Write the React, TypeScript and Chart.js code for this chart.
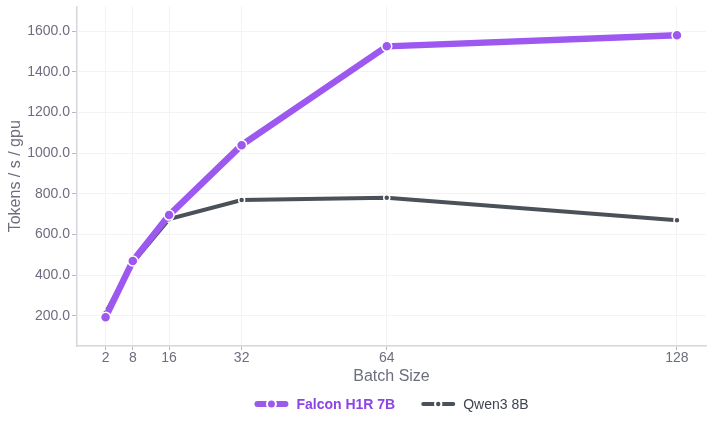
import React, { useEffect, useRef } from "react";
import { Chart, registerables } from "chart.js";

Chart.register(...registerables);

const batchSizes = [2, 8, 16, 32, 64, 128];
const falconValues = [194, 470, 696, 1040, 1526, 1580];
const qwenValues = [215, 462, 676, 770, 781, 670];
const yTickValues = [200, 400, 600, 800, 1000, 1200, 1400, 1600];
const seriesNames = ["Falcon H1R 7B", "Qwen3 8B"];

const PURPLE = "#9d58f0";
const PURPLE_TEXT = "#8b45e6";
const GRAY = "#4b5159";
const TICK_COLOR = "#6c6e7e";
const FONT = "'Liberation Sans', Arial, Helvetica, sans-serif";

const legendPlugin = {
  id: "customLegend",
  afterDraw(chart: any) {
    const ctx = chart.ctx as CanvasRenderingContext2D;
    const area = chart.chartArea;
    const y = chart.height - 21;
    const items = [
      { text: seriesNames[0], color: PURPLE, textColor: PURPLE_TEXT, bold: true, lw: 6, dot: 3.5 },
      { text: seriesNames[1], color: GRAY, textColor: "#3f4350", bold: false, lw: 4, dot: 2.2 },
    ];
    const symW = 34;
    const gapSymText = 8;
    const gapItems = 26;
    const widths = items.map((it) => {
      ctx.font = `${it.bold ? "bold " : ""}14px ${FONT}`;
      return symW + gapSymText + ctx.measureText(it.text).width;
    });
    const total = widths.reduce((a, b) => a + b, 0) + gapItems * (items.length - 1);
    let x = (area.left + area.right) / 2 - total / 2;
    ctx.save();
    items.forEach((it, i) => {
      ctx.lineCap = "round";
      ctx.strokeStyle = it.color;
      ctx.lineWidth = it.lw;
      ctx.beginPath();
      ctx.moveTo(x + it.lw / 2, y);
      ctx.lineTo(x + symW - it.lw / 2, y);
      ctx.stroke();
      const cx = x + symW / 2;
      ctx.fillStyle = "#ffffff";
      ctx.beginPath();
      ctx.arc(cx, y, it.dot + 2, 0, Math.PI * 2);
      ctx.fill();
      ctx.fillStyle = it.color;
      ctx.beginPath();
      ctx.arc(cx, y, it.dot, 0, Math.PI * 2);
      ctx.fill();
      ctx.font = `${it.bold ? "bold " : ""}14px ${FONT}`;
      ctx.fillStyle = it.textColor;
      ctx.textBaseline = "middle";
      ctx.textAlign = "left";
      ctx.fillText(it.text, x + symW + gapSymText, y + 1);
      x += widths[i] + gapItems;
    });
    ctx.restore();
  },
};

export default function App() {
  const canvasRef = useRef<HTMLCanvasElement>(null);

  useEffect(() => {
    document.body.style.margin = "0";
    const canvas = canvasRef.current;
    if (!canvas) return;
    const chart = new Chart(canvas, {
      type: "line",
      data: {
        datasets: [
          {
            label: seriesNames[0],
            data: batchSizes.map((b, i) => ({ x: b, y: falconValues[i] })),
            borderColor: PURPLE,
            backgroundColor: PURPLE,
            borderWidth: 6.5,
            pointRadius: 5,
            pointBorderColor: "#ffffff",
            pointBorderWidth: 1.5,
            pointBackgroundColor: PURPLE,
            order: 0,
          },
          {
            label: seriesNames[1],
            data: batchSizes.map((b, i) => ({ x: b, y: qwenValues[i] })),
            borderColor: GRAY,
            backgroundColor: GRAY,
            borderWidth: 4,
            pointRadius: 3,
            pointBorderColor: "#ffffff",
            pointBorderWidth: 1.5,
            pointBackgroundColor: GRAY,
            order: 1,
          },
        ],
      },
      options: {
        animation: false,
        responsive: false,
        maintainAspectRatio: false,
        layout: { padding: { top: 0, right: 7, left: 6, bottom: 39 } },
        plugins: {
          legend: { display: false },
          tooltip: { enabled: false },
        },
        scales: {
          x: {
            type: "linear",
            min: -4.3,
            max: 134.4,
            afterBuildTicks: (scale: any) => {
              scale.ticks = batchSizes.map((v) => ({ value: v }));
            },
            ticks: {
              color: TICK_COLOR,
              font: { family: FONT, size: 14 },
              padding: 0,
              maxRotation: 0,
              autoSkip: false,
              callback: (v: any) => String(v),
            },
            grid: {
              color: "#f3f3f6",
              tickColor: "#b8b8c2",
              tickLength: 4,
            },
            border: { color: "#d6d6dc", width: 1.5 },
            title: {
              display: true,
              text: "Batch Size",
              color: "#6c6e7e",
              font: { family: FONT, size: 16 },
              padding: { top: 0, bottom: 0 },
            },
          },
          y: {
            type: "linear",
            min: 52,
            max: 1722,
            afterBuildTicks: (scale: any) => {
              scale.ticks = yTickValues.map((v) => ({ value: v }));
            },
            ticks: {
              color: TICK_COLOR,
              font: { family: FONT, size: 14, lineHeight: 0.6 },
              padding: 2,
              callback: (v: any) => Number(v).toFixed(1),
            },
            grid: {
              color: "#f3f3f6",
              tickColor: "#b8b8c2",
              tickLength: 5,
            },
            border: { color: "#d6d6dc", width: 1.5 },
            title: {
              display: true,
              text: "Tokens / s / gpu",
              color: "#6c6e7e",
              font: { family: FONT, size: 16 },
              padding: { top: 0, bottom: 0 },
            },
          },
        },
      },
      plugins: [legendPlugin],
    } as any);
    return () => chart.destroy();
  }, []);

  return (
    <div style={{ width: 713, height: 425, position: "relative" }}>
      <canvas ref={canvasRef} width={713} height={425} style={{ display: "block" }} />
    </div>
  );
}
